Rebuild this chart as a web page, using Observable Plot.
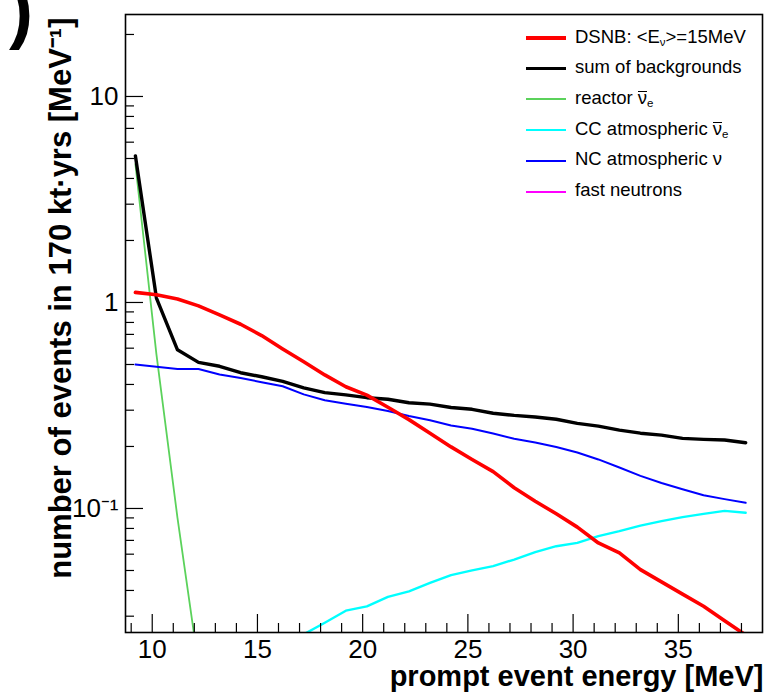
<!DOCTYPE html>
<html>
<head>
<meta charset="utf-8">
<script src="https://cdn.jsdelivr.net/npm/d3@7"></script>
<script src="https://cdn.jsdelivr.net/npm/@observablehq/plot@0.6"></script>
<style>
  body { margin: 0; background: #fff; }
  #wrap { position: relative; width: 769px; height: 692px; overflow: hidden;
          font-family: "Liberation Sans", Arial, Helvetica, sans-serif; background: #fff; }
  #wrap svg { position: absolute; left: 0; top: 0; }
  .lg-sw { position: absolute; left: 526px; width: 40px; }
  .lg-tx { position: absolute; left: 575px; font-size: 18.5px; line-height: 20px; white-space: nowrap; color: #000; }
  .lg-tx sub { font-size: 0.62em; vertical-align: -0.25em; line-height: 0; }
  .ob { display: inline-block; line-height: 0.65em; border-top: 1.2px solid #000; }
  #panel { position: absolute; left: 9px; top: -26px; font-size: 72px; line-height: 72px; font-weight: bold; }
</style>
</head>
<body>
<div id="wrap"><div id="panel">)</div></div>
<script>
// ---------- data ----------
const energyMeV = [9.2, 10.2, 11.2, 12.2, 13.2, 14.2, 15.2, 16.2, 17.2, 18.2,
                   19.2, 20.2, 21.2, 22.2, 23.2, 24.2, 25.2, 26.2, 27.2, 28.2,
                   29.2, 30.2, 31.2, 32.2, 33.2, 34.2, 35.2, 36.2, 37.2, 38.2];
const dsnb = [1.12, 1.09, 1.04, 0.963, 0.871, 0.784, 0.691, 0.595, 0.516, 0.445,
              0.39, 0.355, 0.31, 0.27, 0.232, 0.199, 0.173, 0.151, 0.126, 0.1085,
              0.0942, 0.0812, 0.068, 0.0609, 0.0505, 0.044, 0.0384, 0.0335, 0.0285, 0.0243];
const sumBackgrounds = [5.15, 1.05, 0.589, 0.512, 0.49, 0.456, 0.436, 0.414, 0.385, 0.365,
                        0.356, 0.345, 0.339, 0.326, 0.321, 0.309, 0.303, 0.290, 0.283, 0.278,
                        0.271, 0.259, 0.251, 0.240, 0.232, 0.227, 0.219, 0.2166, 0.215, 0.2086];
const ncAtmospheric = [0.50, 0.488, 0.476, 0.475, 0.447, 0.43, 0.41, 0.392, 0.358, 0.335,
                       0.322, 0.311, 0.297, 0.281, 0.268, 0.253, 0.244, 0.231, 0.218, 0.209,
                       0.199, 0.187, 0.173, 0.158, 0.144, 0.133, 0.124, 0.116, 0.111, 0.1065];
const reactorEnergy = [9.2, 10.2, 11.2, 12.2];
const reactor = [4.7, 0.56, 0.09, 0.0173];
const ccEnergy = [17.2, 18.2, 19.2, 20.2, 21.2, 22.2, 23.2, 24.2, 25.2, 26.2, 27.2,
                  28.2, 29.2, 30.2, 31.2, 32.2, 33.2, 34.2, 35.2, 36.2, 37.2, 38.2];
const ccAtmospheric = [0.0245, 0.0279, 0.0319, 0.0335, 0.0372, 0.0396, 0.0435, 0.0475, 0.0501, 0.0525, 0.0565,
                       0.0614, 0.0656, 0.0681, 0.0734, 0.0776, 0.0826, 0.0868, 0.0908, 0.0942, 0.0974, 0.0953];
const fastNeutronEnergy = [];   // stays below the plotted range
const fastNeutrons = [];

const xMajorTicks = [10, 15, 20, 25, 30, 35];
const xTickLabels = ["10", "15", "20", "25", "30", "35"];
const xMinorTicks = [9, 11, 12, 13, 14, 16, 17, 18, 19, 21, 22, 23, 24, 26, 27, 28, 29, 31, 32, 33, 34, 36, 37, 38];
const yMajorTicks = [0.1, 1, 10];
const yTickLabels = ["10\u207B\u00B9", "1", "10"];
const yMinorTicks = [0.03, 0.04, 0.05, 0.06, 0.07, 0.08, 0.09, 0.2, 0.3, 0.4, 0.5, 0.6, 0.7, 0.8, 0.9,
                     2, 3, 4, 5, 6, 7, 8, 9, 20];

const seriesNames = ["DSNB: <Eν>=15MeV", "sum of backgrounds", "reactor ν̄e", "CC atmospheric ν̄e", "NC atmospheric ν", "fast neutrons"];
const seriesLegendHTML = ["DSNB: &lt;E<sub>ν</sub>&gt;=15MeV", "sum of backgrounds",
                          "reactor <span class='ob'>ν</span><sub>e</sub>",
                          "CC atmospheric <span class='ob'>ν</span><sub>e</sub>",
                          "NC atmospheric ν", "fast neutrons"];
const seriesColors = ["#ff0000", "#000000", "#5bd25b", "#00ffff", "#0000ff", "#ff00ff"];
const seriesWidths = [3.6, 3.4, 1.8, 2.4, 2, 2];
const legendSwatchHeights = [4, 3, 2, 2, 2, 2];

const xTitle = "prompt event energy [MeV]";
const yTitle = "number of events in 170 kt\u00B7yrs [MeV\u207B\u00B9]";

// ---------- build ----------
const W = 769, H = 692, ML = 125, MR = 7, MT = 14, MB = 60;
const PW = W - ML - MR, PH = H - MT - MB;

function rows(es, vs, name) { return es.map((e, i) => ({series: name, E: e, v: vs[i]})); }
const seriesData = [
  rows(energyMeV, dsnb, seriesNames[0]),
  rows(energyMeV, sumBackgrounds, seriesNames[1]),
  rows(reactorEnergy, reactor, seriesNames[2]),
  rows(ccEnergy, ccAtmospheric, seriesNames[3]),
  rows(energyMeV, ncAtmospheric, seriesNames[4]),
  rows(fastNeutronEnergy, fastNeutrons, seriesNames[5])
];
const drawOrder = [2, 3, 4, 5, 1, 0];

const font = "'Liberation Sans', Arial, Helvetica, sans-serif";
const chart = Plot.plot({
  width: W, height: H,
  marginLeft: ML, marginRight: MR, marginTop: MT, marginBottom: MB,
  style: {fontFamily: font, background: "transparent", color: "#000", overflow: "visible"},
  x: {type: "linear", domain: [8.73, 39.0]},
  y: {type: "log", domain: [0.025, 25]},
  marks: [
    ...drawOrder.map(k => Plot.line(seriesData[k], {
      x: "E", y: "v", stroke: seriesColors[k], strokeWidth: seriesWidths[k], clip: true,
      strokeLinejoin: "round"
    })),
    Plot.tickY(yMinorTicks, {y: d => d, insetRight: PW - 9, stroke: "#000", strokeWidth: 1.2}),
    Plot.tickY(yMajorTicks, {y: d => d, insetRight: PW - 18, stroke: "#000", strokeWidth: 1.2}),
    Plot.tickX(xMinorTicks, {x: d => d, insetTop: PH - 9, stroke: "#000", strokeWidth: 1.2}),
    Plot.tickX(xMajorTicks, {x: d => d, insetTop: PH - 18, stroke: "#000", strokeWidth: 1.2}),
    Plot.axisY(yMajorTicks, {tickSize: 0, tickPadding: 7, fontSize: 26, label: null,
      tickFormat: d => yTickLabels[yMajorTicks.indexOf(d)]}),
    Plot.axisX(xMajorTicks, {tickSize: 0, tickPadding: 7, fontSize: 26, label: null,
      tickFormat: d => xTickLabels[xMajorTicks.indexOf(d)]}),
    Plot.frame({stroke: "#000", strokeWidth: 1.6}),
    Plot.text([xTitle], {frameAnchor: "bottom-right", textAnchor: "end", lineAnchor: "middle",
      dx: 1, dy: 44, fontSize: 29, fontWeight: "bold", fill: "#000"}),
    Plot.text([yTitle], {frameAnchor: "top-left", textAnchor: "end", lineAnchor: "middle",
      rotate: -90, dx: -64, dy: 3, fontSize: 31, fontWeight: "bold", fill: "#000"})
  ]
});
const wrap = document.getElementById("wrap");
wrap.appendChild(chart);

// ---------- legend (inside frame, top-right) ----------
seriesNames.forEach((name, i) => {
  const cy = 38 + 30.7 * i;
  const h = legendSwatchHeights[i];
  const sw = document.createElement("div");
  sw.className = "lg-sw";
  sw.style.top = Math.round(cy - h / 2) + "px";
  sw.style.height = h + "px";
  sw.style.background = seriesColors[i];
  wrap.appendChild(sw);
  const tx = document.createElement("div");
  tx.className = "lg-tx";
  tx.style.top = Math.round(cy - 11.4) + "px";
  tx.innerHTML = seriesLegendHTML[i];
  wrap.appendChild(tx);
});
</script>
</body>
</html>
